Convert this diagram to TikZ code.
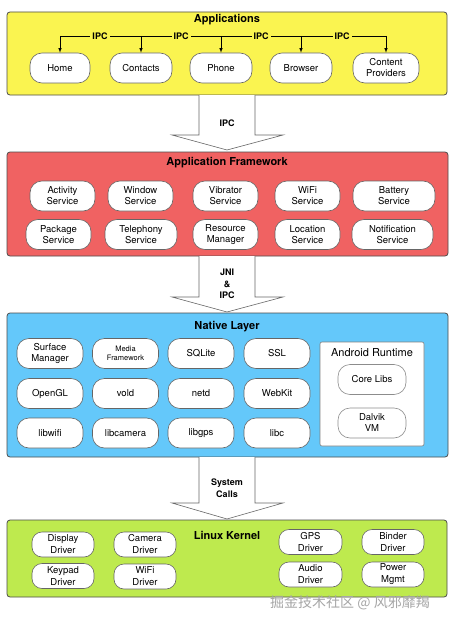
\documentclass[tikz,border=0pt]{standalone}
\usepackage{fontspec}
\setmainfont{TeX Gyre Heros}
\newfontfamily\cjkfont{Noto Sans CJK SC}
\usetikzlibrary{arrows}

\definecolor{appyellow}{RGB}{250,244,80}
\definecolor{fwred}{RGB}{240,98,98}
\definecolor{nativeblue}{RGB}{100,200,250}
\definecolor{kernelgreen}{RGB}{190,234,78}

% big hollow arrow between two layers
\newcommand{\layerarrow}[3]{%
	\filldraw[bigarrow] (199,#1) -- (199,#2) -- (172,#2) -- (227,#3) -- (283,#2) -- (255,#2) -- (255,#1);}

\begin{document}
\begin{tikzpicture}[x=1pt, y=-1pt,
	layer/.style={draw=black!70, line width=0.8pt, rounded corners=3pt},
	layertitle/.style={font=\bfseries\fontsize{11}{13}\selectfont},
	block/.style={draw=black!60, fill=white, line width=0.6pt, rounded corners=12pt,
		minimum width=65pt, minimum height=30pt, inner sep=0pt, align=center,
		font=\fontsize{9.5}{11}\selectfont},
	smallblock/.style={block, rounded corners=10pt, minimum height=25pt, minimum width=62pt,
		font=\fontsize{9.5}{12}\selectfont},
	ipclabel/.style={fill=appyellow, inner sep=2pt, font=\bfseries\fontsize{9}{10}\selectfont},
	arrowlabel/.style={align=center, font=\bfseries\fontsize{9}{11.5}\selectfont},
	bigarrow/.style={draw=black!60, fill=white, line width=0.6pt}]

	\useasboundingbox (0,0) rectangle (452,626);
	\fill[white] (0,0) rectangle (452,626);

	% Applications
	\draw[layer, fill=appyellow] (7,12) rectangle (447,95);
	\node[layertitle] (apptitle) at (227,20) {Applications};
	\node[block, minimum width=60pt] (home) at (60,68) {Home};
	\node[block, minimum width=62pt] (contacts) at (141,68) {Contacts};
	\node[block, minimum width=62pt] (phone) at (221,68) {Phone};
	\node[block, minimum width=62pt] (browser) at (301,68) {Browser};
	\node[block, minimum width=66pt] (providers) at (386,68) {Content\\Providers};
	\coordinate (ipcrow) at (0,36);
	\draw[line width=0.6pt] (home.north |- ipcrow) -- (providers.north |- ipcrow);
	\foreach \n in {home, contacts, phone, browser, providers}
		\draw[-latex, line width=0.6pt] (\n.north |- ipcrow) -- (\n.north);
	\node[ipclabel] (ipc1) at (100,36) {IPC};
	\node[ipclabel] (ipc2) at (181,36) {IPC};
	\node[ipclabel] (ipc3) at (261,36) {IPC};
	\node[ipclabel] (ipc4) at (342,36) {IPC};

	% Application Framework
	\draw[layer, fill=fwred] (7,152) rectangle (448,256);
	\node[layertitle] (fwtitle) at (227,163) {Application Framework};
	\node[block] (activity) at (62.5,196) {Activity\\Service};
	\node[block] (window) at (140.5,196) {Window\\Service};
	\node[block] (vibrator) at (225.5,196) {Vibrator\\Service};
	\node[block] (wifi) at (307.5,196) {WiFi\\Service};
	\node[block, minimum width=82pt] (battery) at (394,196) {Battery\\Service};
	\node[block] (package) at (58.5,234.5) {Package\\Service};
	\node[block, minimum width=72pt] (telephony) at (141,234.5) {Telephony\\Service};
	\node[block] (resource) at (225.5,234.5) {Resource\\Manager};
	\node[block] (location) at (307.5,234.5) {Location\\Service};
	\node[block, minimum width=81pt] (notification) at (392.5,234.5) {Notification\\Service};

	% Native Layer
	\draw[layer, fill=nativeblue] (7,313) rectangle (448,457);
	\node[layertitle] (nativetitle) at (227,327) {Native Layer};
	\node[block, minimum width=66pt] (surface) at (50,353.5) {Surface\\Manager};
	\node[block, minimum width=66pt, font=\fontsize{7.5}{9.5}\selectfont] (media) at (125.5,353.5) {Media\\Framework};
	\node[block, minimum width=66pt] (sqlite) at (201,353.5) {SQLite};
	\node[block, minimum width=66pt] (ssl) at (277,353.5) {SSL};
	\node[block, minimum width=66pt] (opengl) at (50,393.5) {OpenGL};
	\node[block, minimum width=66pt] (vold) at (125.5,393.5) {vold};
	\node[block, minimum width=66pt] (netd) at (201,393.5) {netd};
	\node[block, minimum width=66pt] (webkit) at (277,393.5) {WebKit};
	\node[block, minimum width=66pt] (libwifi) at (50,433) {libwifi};
	\node[block, minimum width=66pt] (libcamera) at (125.5,433) {libcamera};
	\node[block, minimum width=66pt] (libgps) at (201,433) {libgps};
	\node[block, minimum width=66pt] (libc) at (277,433) {libc};
	\draw[draw=black!50, fill=white, line width=0.6pt, rounded corners=2pt] (320,342) rectangle (424,446);
	\node[font=\fontsize{11}{13}\selectfont] (runtime) at (372,352.5) {Android Runtime};
	\node[block, minimum width=68pt, draw=black!45] (corelibs) at (372,379.5) {Core Libs};
	\node[block, minimum width=68pt, draw=black!45] (dalvik) at (372,423) {Dalvik\\VM};

	% Linux Kernel
	\draw[layer, fill=kernelgreen] (7,520) rectangle (447,597);
	\node[layertitle] (kerneltitle) at (227,535) {Linux Kernel};
	\node[smallblock] (display) at (63,544.5) {Display\\Driver};
	\node[smallblock] (keypad) at (63,576) {Keypad\\Driver};
	\node[smallblock] (camera) at (145,544.5) {Camera\\Driver};
	\node[smallblock] (wifidrv) at (145,576.5) {WiFi\\Driver};
	\node[smallblock, minimum width=63pt] (gps) at (310.5,542) {GPS\\Driver};
	\node[smallblock, minimum width=63pt] (audio) at (310.5,574.5) {Audio\\Driver};
	\node[smallblock] (binder) at (393,542) {Binder\\Driver};
	\node[smallblock] (power) at (393,574.5) {Power\\Mgmt};

	% arrows between the layers
	\layerarrow{95}{135}{150}
	\node[arrowlabel] (ipcarrow) at (227,123) {IPC};
	\layerarrow{256}{297}{312}
	\node[arrowlabel] (jniarrow) at (227,284) {JNI\\\&\\IPC};
	\layerarrow{457}{503}{519}
	\node[arrowlabel] (sysarrow) at (227,488) {System\\Calls};

	\node[font=\cjkfont\fontsize{14}{16}\selectfont, text=black!35] (mark) at (350,603) {掘金技术社区 @ 风邪靡羯};
\end{tikzpicture}
\end{document}
